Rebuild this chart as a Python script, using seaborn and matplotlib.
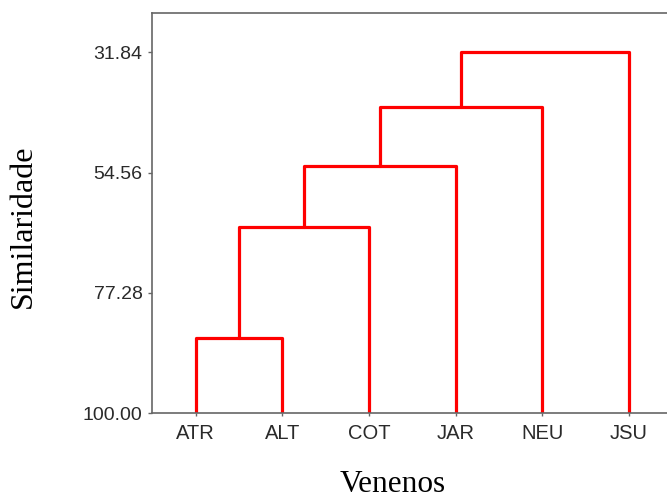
import matplotlib
matplotlib.use("Agg")
import matplotlib.pyplot as plt
import seaborn as sns
import pandas as pd

# ---- data ----
leaves = ["ATR", "ALT", "COT", "JAR", "NEU", "JSU"]
# linkage: (left id, right id, similarity at merge); ids >= len(leaves) are clusters
link_left = [0, 6, 7, 8, 9]
link_right = [1, 2, 3, 4, 5]
link_height = [85.84, 64.77, 53.25, 42.10, 31.84]
y_ticks = [31.84, 54.56, 77.28, 100.00]
leaf_level = 100.0

# ---- build dendrogram segments ----
xpos = {i: float(i) for i in range(len(leaves))}
hpos = {i: leaf_level for i in range(len(leaves))}
rows = []
for k, (a, b, h) in enumerate(zip(link_left, link_right, link_height)):
    cid = len(leaves) + k
    pts = [(xpos[a], hpos[a]), (xpos[a], h), (xpos[b], h), (xpos[b], hpos[b])]
    for order, (x, y) in enumerate(pts):
        rows.append({"link": k, "order": order, "x": x, "y": y})
    xpos[cid] = (xpos[a] + xpos[b]) / 2
    hpos[cid] = h
df = pd.DataFrame(rows)

sns.set_style("white")
plt.rcParams["font.family"] = ["Liberation Sans", "DejaVu Sans"]

fig = plt.figure(figsize=(6.67, 4.99), dpi=100)
ax = fig.add_axes([0.2283, 0.1717, 0.7796, 0.8016])

sns.lineplot(data=df, x="x", y="y", units="link", estimator=None, sort=False,
             color="#ff0000", linewidth=2.3, ax=ax, legend=False)

ax.set_xlim(-0.5, len(leaves) - 0.5)
ax.set_ylim(leaf_level, 24.5)
ax.set_xticks(range(len(leaves)))
ax.set_xticklabels(leaves)
ax.set_yticks(y_ticks)
ax.set_yticklabels([f"{v:.2f}" for v in y_ticks])
ax.set_xlabel("")
ax.set_ylabel("")

spine_col = "#666666"
for side in ["left", "top", "bottom"]:
    ax.spines[side].set_color(spine_col)
    ax.spines[side].set_linewidth(1.2)
ax.spines["right"].set_visible(False)
ax.tick_params(axis="y", direction="out", length=3, width=1.0, color=spine_col,
               labelsize=14, labelcolor="#2a2a2a", pad=4, left=True)
ax.tick_params(axis="x", direction="out", length=2.5, width=1.0, color=spine_col,
               labelsize=14.5, labelcolor="#2a2a2a", pad=5, bottom=True)

fig.text(393 / 667, 1 - 492 / 499, "Venenos", ha="center", va="baseline",
         fontsize=22.5, family=["Liberation Serif", "DejaVu Serif"], color="black")
fig.text(23 / 667, 1 - 226 / 499, "Similaridade", ha="center", va="center",
         rotation=90, fontsize=23, family=["Liberation Serif", "DejaVu Serif"],
         color="black")

fig.savefig("out.png", dpi=100)
